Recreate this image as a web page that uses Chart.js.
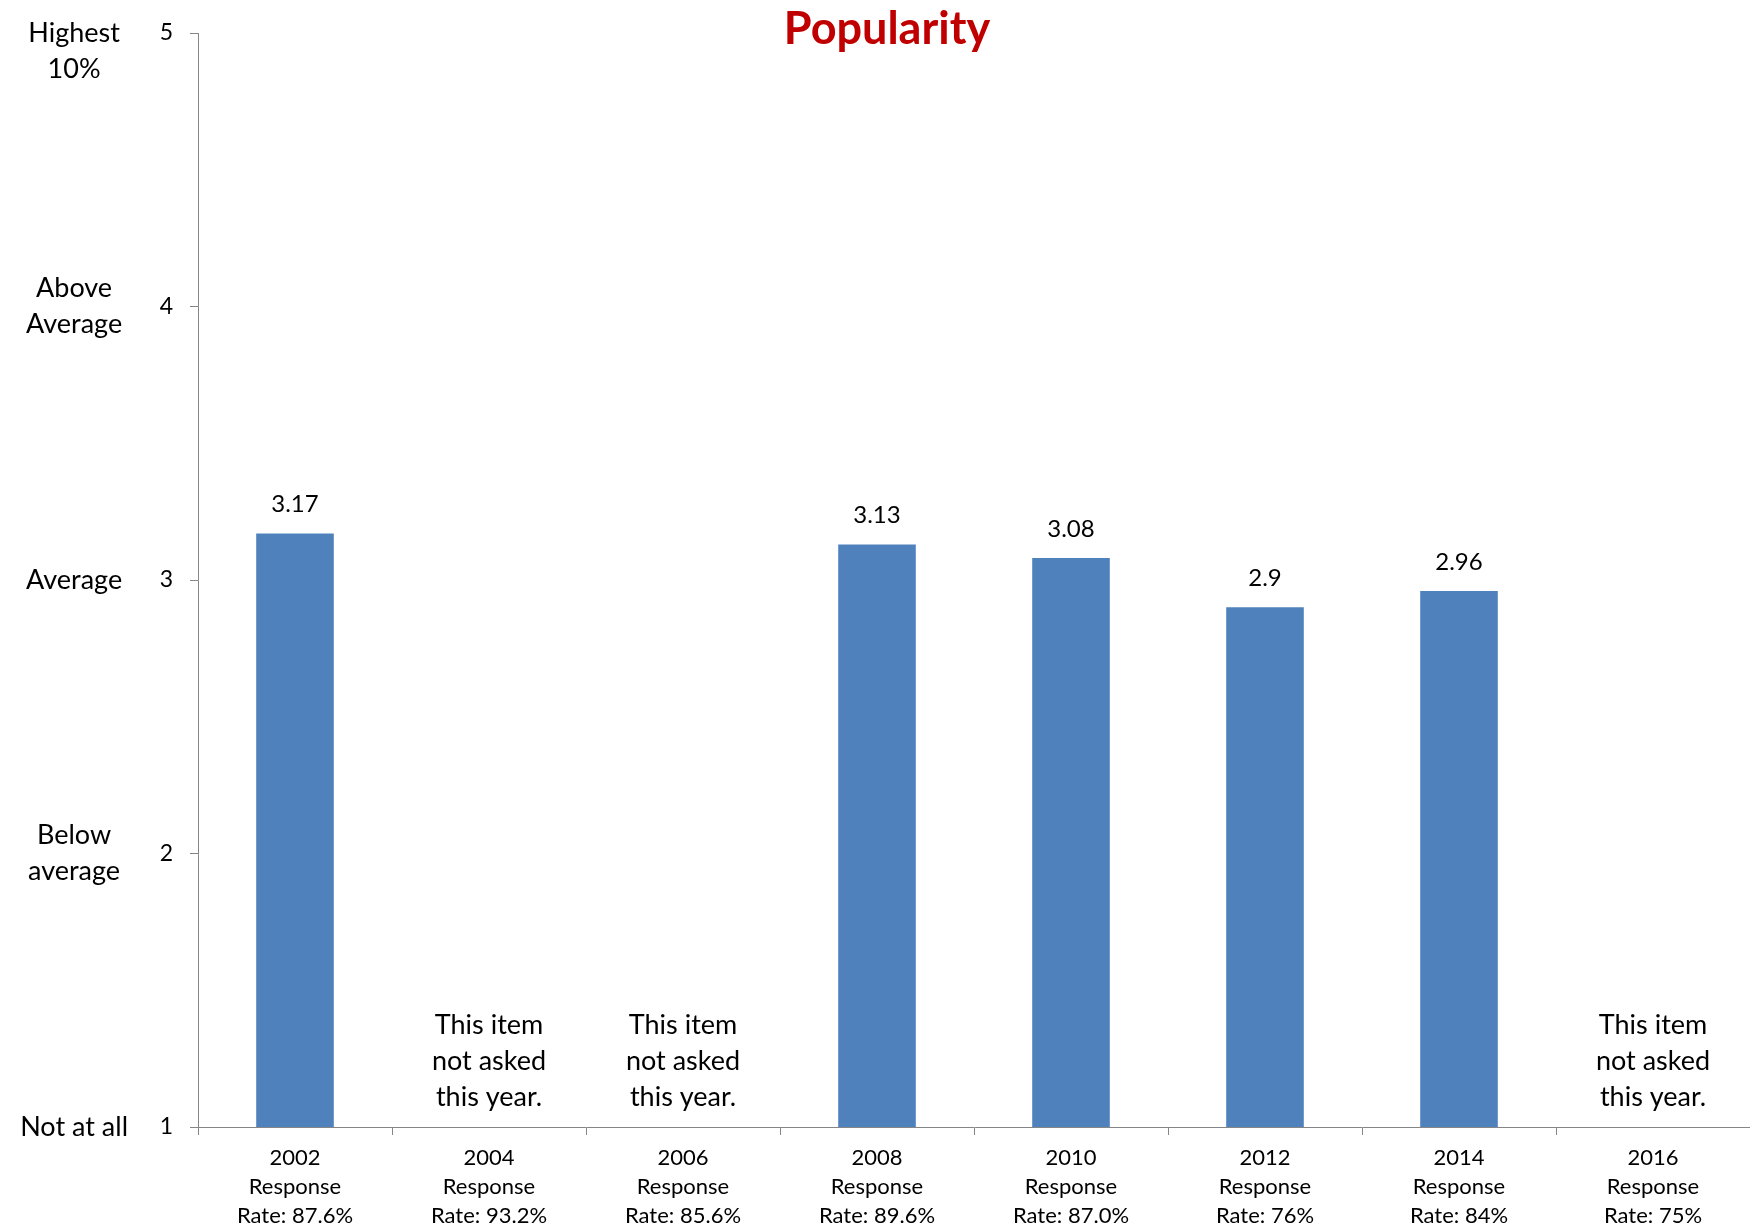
<!DOCTYPE html>
<html>
<head>
<meta charset="utf-8">
<script src="https://cdn.jsdelivr.net/npm/chart.js@4.4.1/dist/chart.umd.min.js"></script>
<style>
  html, body { margin: 0; padding: 0; background: #fff; }
</style>
</head>
<body>
<canvas id="chart" width="1750" height="1228"></canvas>
<script>
// survey years and the response rate line under each
const years = ['2002', '2004', '2006', '2008', '2010', '2012', '2014', '2016'];
const responseRates = ['Rate: 87.6%', 'Rate: 93.2%', 'Rate: 85.6%', 'Rate: 89.6%',
  'Rate: 87.0%', 'Rate: 76%', 'Rate: 84%', 'Rate: 75%'];

// mean rating, null = item not asked that year
const meanScores = [3.17, null, null, 3.13, 3.08, 2.9, 2.96, null];
const missingNote = ['This item', 'not asked', 'this year.'];

// rating scale 1..5 and the words for each step
const scaleTicks = [1, 2, 3, 4, 5];
const scaleNames = [['Not at all'], ['Below', 'average'], ['Average'], ['Above', 'Average'], ['', 'Highest', '10%']];

const FONT = 'Lato';
const AXIS_GREY = '#868686';

const barNotes = {
  id: 'barNotes',
  afterDatasetsDraw(chart) {
    const ctx = chart.ctx;
    const xs = chart.scales.x;
    const ys = chart.scales.y;
    ctx.save();
    ctx.fillStyle = '#000';
    ctx.textAlign = 'center';
    ctx.textBaseline = 'middle';
    meanScores.forEach((v, i) => {
      const x = xs.getPixelForValue(i);
      if (v === null) {
        ctx.font = '27px ' + FONT;
        const base = ys.getPixelForValue(1);
        missingNote.forEach((line, k) => {
          ctx.fillText(line, x, base - 30 - (missingNote.length - 1 - k) * 36);
        });
      } else {
        ctx.font = '24px ' + FONT;
        ctx.fillText(String(v), x, ys.getPixelForValue(v) - 29);
      }
    });
    ctx.restore();
  }
};

const topTitle = {
  id: 'topTitle',
  afterDraw(chart) {
    const ctx = chart.ctx;
    ctx.save();
    ctx.font = 'bold 45px ' + FONT;
    ctx.fillStyle = '#C00000';
    ctx.textAlign = 'center';
    ctx.textBaseline = 'middle';
    ctx.fillText('Popularity', chart.width / 2 + 12, 29);
    ctx.restore();
  }
};

new Chart(document.getElementById('chart'), {
  type: 'bar',
  data: {
    labels: years.map((y, i) => [y, 'Response', responseRates[i]]),
    datasets: [{
      data: meanScores,
      backgroundColor: '#4F81BD',
      borderWidth: 0,
      categoryPercentage: 1,
      barPercentage: 0.4,
      yAxisID: 'y'
    }]
  },
  options: {
    responsive: false,
    animation: false,
    layout: { padding: { top: 33, right: 0, bottom: 0, left: 0 } },
    plugins: {
      legend: { display: false },
      title: { display: false },
      tooltip: { enabled: false }
    },
    scales: {
      x: {
        grid: { display: true, drawOnChartArea: false, tickLength: 8, color: AXIS_GREY, offset: true },
        border: { display: true, color: AXIS_GREY, width: 1 },
        ticks: {
          color: '#000',
          padding: 8,
          maxRotation: 0,
          autoSkip: false,
          font: { family: FONT, size: 22, lineHeight: 1.32 }
        },
        afterFit(s) { s.height = 101; }
      },
      y: {
        position: 'left',
        weight: 0,
        min: 1,
        max: 5,
        grid: { display: true, drawOnChartArea: false, tickLength: 8, color: AXIS_GREY },
        border: { display: true, color: AXIS_GREY, width: 1 },
        ticks: {
          stepSize: 1,
          color: '#000',
          padding: 17,
          font: { family: FONT, size: 23 }
        },
        afterFit(s) { s.width = 48; }
      },
      y2: {
        position: 'left',
        weight: 1,
        min: 1,
        max: 5,
        grid: { display: false, drawTicks: false, tickLength: 0 },
        border: { display: false },
        ticks: {
          stepSize: 1,
          color: '#000',
          crossAlign: 'center',
          padding: 22,
          font: { family: FONT, size: 27, lineHeight: 1.33 },
          callback: (value) => scaleNames[scaleTicks.indexOf(value)]
        },
        afterFit(s) { s.width = 150; s.paddingTop = 0; s.paddingBottom = 0; }
      }
    }
  },
  plugins: [barNotes, topTitle]
});
</script>
</body>
</html>
